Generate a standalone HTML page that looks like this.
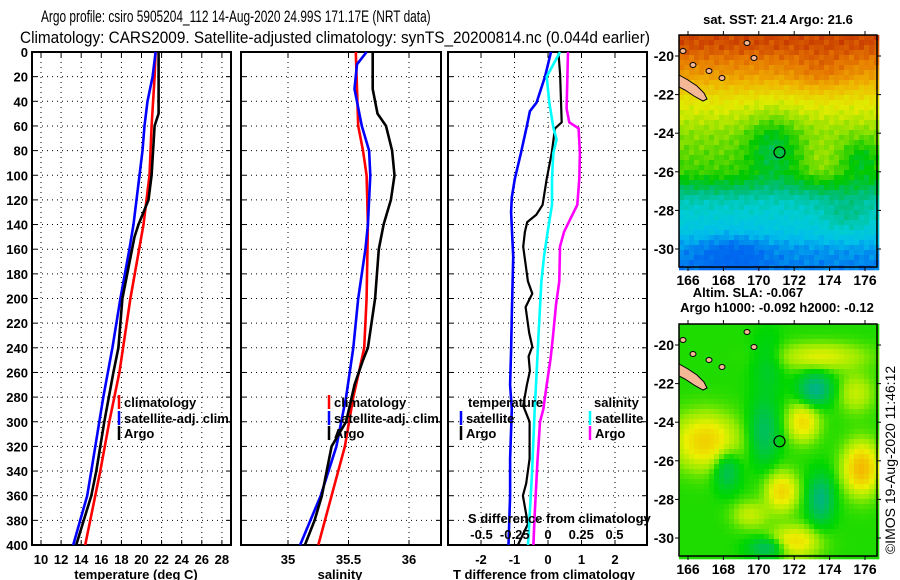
<!DOCTYPE html>
<html><head><meta charset="utf-8">
<style>
html,body{margin:0;padding:0;background:#fff;}
svg{display:block;font-family:"Liberation Sans",sans-serif;}
.tk{font-size:13px;font-weight:bold;}
.mk{font-size:14px;font-weight:bold;}
.lg{font-size:13px;font-weight:bold;}
.tt{font-size:17px;font-family:"Liberation Sans",sans-serif;}
</style></head>
<body>
<svg id="fig" width="900" height="580" viewBox="0 0 900 580" xmlns="http://www.w3.org/2000/svg">
<text id="t1" class="tt" x="0" y="0">Argo profile: csiro 5905204_112 14-Aug-2020 24.99S 171.17E (NRT data)</text>
<text id="t2" class="tt" x="0" y="0">Climatology: CARS2009. Satellite-adjusted climatology: synTS_20200814.nc (0.044d earlier)</text>
<g id="plots"></g>
<g id="maps"></g>
</svg>
<script>
// ---------------- data ----------------
const depthTicks=[0,20,40,60,80,100,120,140,160,180,200,220,240,260,280,300,320,340,360,380,400];
const tempTicks=[10,12,14,16,18,20,22,24,26,28];
const salTicks=[35,35.5,36];
const tdiffTicks=[-2,-1,0,1,2];
const sdiffTicks=[-0.5,-0.25,0,0.25,0.5];
const sdiffLabels=["-0.5","-0.25","0","0.25","0.5"];

const tClimDepth=[0,20,60,100,120,140,200,260,300,340,400];
const tClimVal=[21.4,21.3,21.0,20.8,20.5,20.2,18.9,17.8,16.8,15.9,14.4];
const tSatDepth=[0,20,40,60,80,100,140,160,200,240,280,300,340,360,400];
const tSatVal=[21.4,21.1,20.6,20.3,20.1,19.8,19.2,18.8,17.9,17.1,16.2,15.8,15.0,14.6,13.2];
const tArgoDepth=[0,50,60,100,120,130,140,150,200,240,260,300,340,360,400];
const tArgoVal=[21.7,21.7,21.3,21.0,20.7,20.2,19.7,19.3,18.1,17.7,17.2,16.3,15.5,15.0,13.5];

const sClimDepth=[0,60,80,100,140,200,240,258,280,320,360,400];
const sClimVal=[35.56,35.58,35.62,35.65,35.66,35.65,35.63,35.59,35.54,35.47,35.36,35.25];
const sSatDepth=[0,10,30,60,80,100,140,160,200,240,280,320,360,400];
const sSatVal=[35.65,35.57,35.55,35.61,35.67,35.68,35.66,35.64,35.58,35.54,35.48,35.40,35.27,35.10];
const sArgoDepth=[0,30,50,60,80,100,120,140,160,200,220,240,250,270,300,320,340,360,380,400];
const sArgoVal=[35.70,35.70,35.74,35.81,35.86,35.88,35.85,35.79,35.75,35.72,35.69,35.66,35.62,35.55,35.48,35.36,35.32,35.28,35.22,35.14];

const dtSatDepth=[0,20,41,48,61,82,103,118,130,166,214,242,270,290,330,360,400];
const dtSatVal=[0.09,-0.09,-0.34,-0.54,-0.64,-0.81,-0.99,-1.08,-1.10,-1.04,-1.08,-1.10,-1.13,-1.08,-1.13,-1.13,-1.18];
const dtArgoDepth=[0,18,57,62,82,103,124,132,138,146,158,186,196,207,228,239,247,259,270,287,300,330,350,360,383,400];
const dtArgoVal=[0.31,0.36,0.41,0.21,0.11,-0.04,-0.16,-0.35,-0.62,-0.69,-0.74,-0.60,-0.47,-0.67,-0.56,-0.47,-0.58,-0.54,-0.63,-0.74,-0.55,-0.55,-0.65,-0.75,-0.6,-0.9];
const dsSatDepth=[0,20,41,61,71,82,103,124,144,166,186,207,227,270,290,342,400];
const dsSatVal=[0.09,-0.01,0.01,0.04,0.065,0.04,0.03,0.03,0.0,-0.03,-0.05,-0.06,-0.07,-0.09,-0.10,-0.12,-0.15];
const dsArgoDepth=[0,46,57,62,82,103,124,135,146,158,186,205,228,248,270,290,300,333,375,400];
const dsArgoVal=[0.15,0.14,0.16,0.23,0.24,0.235,0.22,0.17,0.12,0.09,0.085,0.06,0.04,0.02,-0.01,-0.035,-0.06,-0.08,-0.10,-0.11];

const lonTicks=[166,168,170,172,174,176];
const latTicks=[-20,-22,-24,-26,-28,-30];
const argoLon=171.17, argoLat=-24.99;

// ---------------- titles (scaled to fit) ----------------
function fitTitle(id,x,y,w){const e=document.getElementById(id);const L=e.getComputedTextLength()||w;
  e.setAttribute('transform','translate('+x+','+y+') scale('+(w/L).toFixed(4)+',1)');}
fitTitle('t1',41,22,390);
fitTitle('t2',20,43,630);

// ---------------- helpers ----------------
const NS="http://www.w3.org/2000/svg";
function mk(tag,attrs,parent,text){const e=document.createElementNS(NS,tag);for(const k in attrs)e.setAttribute(k,attrs[k]);if(text!==undefined)e.textContent=text;parent.appendChild(e);return e;}
const plots=document.getElementById('plots');
const Y0=52, YS=1.2325;
function yD(d){return Y0+d*YS;}
const YB=yD(400);

function panel(name,x0,x1,xf,vticks,vlabels,labelY,leftLabels){
  const g=mk('g',{},plots);
  
  
  depthTicks.forEach(d=>{ if(d>0&&d<400){const l=mk('line',{x1:x0,x2:x1,y1:yD(d),y2:yD(d),stroke:'#000','stroke-width':1,'stroke-dasharray':'1,4'},g);
    }
    mk('line',{x1:x0,x2:x0+5,y1:yD(d),y2:yD(d),stroke:'#000'},g);
    mk('line',{x1:x1-5,x2:x1,y1:yD(d),y2:yD(d),stroke:'#000'},g);
    if(leftLabels){const t=mk('text',{x:x0-4,y:yD(d)+5,'text-anchor':'end',class:'tk'},g,String(d));
      }
  });
  vticks.forEach((v,i)=>{const x=xf(v);
    const l=mk('line',{x1:x,x2:x,y1:Y0,y2:YB,stroke:'#000','stroke-width':1,'stroke-dasharray':'1,4'},g);
    
    mk('line',{x1:x,x2:x,y1:Y0,y2:Y0+5,stroke:'#000'},g);mk('line',{x1:x,x2:x,y1:YB-5,y2:YB,stroke:'#000'},g);
    if(vlabels){const t=mk('text',{x:x,y:labelY,'text-anchor':'middle',class:'tk'},g,vlabels[i]);
      }
  });
  const r=mk('rect',{x:x0,y:Y0,width:x1-x0,height:YB-Y0,fill:'none',stroke:'#000','stroke-width':2},g);
  
  return g;
}
function series(g,name,depths,vals,xf,color,w){
  const pts=depths.map((d,i)=>xf(vals[i]).toFixed(1)+','+yD(d).toFixed(1)).join(' ');
  const p=mk('polyline',{points:pts,fill:'none',stroke:color,'stroke-width':w||2.6,'stroke-linejoin':'miter'},g);
  
  
}
function legend(g,name,x,y,color,label){
  const m=mk('line',{x1:x,x2:x,y1:y-12,y2:y+2,stroke:color,'stroke-width':2.5},g);
  
  if(label){const t=mk('text',{x:x+5,y:y,class:'lg'},g,label);
    }
}

// Panel 1: temperature
const xT=v=>41+(v-10)*10.05;
const g1=panel('temperature-panel',32,231,xT,tempTicks,tempTicks.map(String),564,true);
series(g1,'temp-climatology-line',tClimDepth,tClimVal,xT,'#f00');
series(g1,'temp-satellite-line',tSatDepth,tSatVal,xT,'#00f');
series(g1,'temp-argo-line',tArgoDepth,tArgoVal,xT,'#000');
legend(g1,'legend-climatology',119,407,'#f00','climatology');
legend(g1,'legend-satellite-adj',119,423,'#00f','satellite-adj. clim.');
legend(g1,'legend-argo',119,438,'#000','Argo');
let t=mk('text',{x:136,y:579,'text-anchor':'middle',class:'tk'},g1,'temperature (deg C)');


// Panel 2: salinity
const xS=v=>288+(v-35)*121;
const g2=panel('salinity-panel',241,441,xS,salTicks,['35','35.5','36'],564,false);
series(g2,'sal-climatology-line',sClimDepth,sClimVal,xS,'#f00');
series(g2,'sal-satellite-line',sSatDepth,sSatVal,xS,'#00f');
series(g2,'sal-argo-line',sArgoDepth,sArgoVal,xS,'#000');
legend(g2,'legend-climatology-s',329,407,'#f00','climatology');
legend(g2,'legend-satellite-adj-s',329,423,'#00f','satellite-adj. clim.');
legend(g2,'legend-argo-s',329,438,'#000','Argo');
t=mk('text',{x:340,y:579,'text-anchor':'middle',class:'tk'},g2,'salinity');


// Panel 3: differences
const xDT=v=>548+v*33.5;
const xDS=v=>548+v*133;
const g3=panel('difference-panel',448,647,xDT,tdiffTicks,tdiffTicks.map(String),564,false);
series(g3,'tdiff-satellite-line',dtSatDepth,dtSatVal,xDT,'#00f');
series(g3,'tdiff-argo-line',dtArgoDepth,dtArgoVal,xDT,'#000',2.2);
series(g3,'sdiff-satellite-line',dsSatDepth,dsSatVal,xDS,'#0ff');
series(g3,'sdiff-argo-line',dsArgoDepth,dsArgoVal,xDS,'#f0f');
t=mk('text',{x:468,y:407,class:'lg'},g3,'temperature');
legend(g3,'legend-t-satellite',461,423,'#00f','satellite');
legend(g3,'legend-t-argo',461,438,'#000','Argo');
t=mk('text',{x:594,y:407,class:'lg'},g3,'salinity');
legend(g3,'legend-s-satellite',590,423,'#0ff','satellite');
legend(g3,'legend-s-argo',590,438,'#f0f','Argo');
t=mk('text',{x:468,y:523,class:'lg'},g3,'S difference from climatology');
sdiffTicks.forEach((v,i)=>{const tt=mk('text',{x:xDS(v),y:539,'text-anchor':'middle',class:'tk'},g3,sdiffLabels[i]);
  });
t=mk('text',{x:544,y:579,'text-anchor':'middle',class:'tk'},g3,'T difference from climatology');


// ---------------- maps ----------------
const maps=document.getElementById('maps');
function lerpC(stops,v){v=Math.max(0,Math.min(1,v));for(let i=1;i<stops.length;i++){if(v<=stops[i][0]){const a=stops[i-1],b=stops[i];const f=(v-a[0])/(b[0]-a[0]);
  return 'rgb('+[1,2,3].map(k=>Math.round(a[k]+(b[k]-a[k])*f)).join(',')+')';}}const s=stops[stops.length-1];return 'rgb('+s[1]+','+s[2]+','+s[3]+')';}
const sstStops=[[0,0,80,235],[0.15,0,110,240],[0.25,0,190,235],[0.33,0,205,210],[0.42,0,190,120],[0.5,0,200,0],[0.6,140,225,0],[0.68,225,235,0],[0.8,240,180,0],[0.9,230,120,0],[1,190,40,0]];
const slaStops=[[0,0,175,150],[0.3,0,200,60],[0.45,0,215,0],[0.6,150,235,0],[0.75,235,240,0],[1,245,180,0]];
function g2d(x,y,cx,cy,sx,sy){return Math.exp(-(((x-cx)/sx)**2+((y-cy)/sy)**2));}
const sstBase=[[-18,0.98],[-19.5,0.95],[-21,0.84],[-22.3,0.7],[-23,0.66],[-24,0.6],[-26,0.54],[-26.8,0.45],[-27.5,0.36],[-29,0.29],[-30,0.2],[-32,0.14]];
function baseAt(lat){for(let i=1;i<sstBase.length;i++){
  if(lat<=sstBase[i-1][0]&&lat>=sstBase[i][0]){const a=sstBase[i-1],b=sstBase[i];return a[1]+(b[1]-a[1])*(lat-a[0])/(b[0]-a[0]);}}
  return lat>-18?0.98:0.14;}
function sst(lon,lat){
  let v=baseAt(lat);
  v-=0.12*g2d(lon,lat,170.8,-24.6,1.5,1.8);
  v-=0.08*g2d(lon,lat,175.8,-25.3,1.0,1.0);
  v+=0.05*g2d(lon,lat,173.5,-25.5,1.0,1.2);
  v-=0.07*g2d(lon,lat,168.5,-30.2,2.0,1.2);
  v+=0.07*g2d(lon,lat,175,-28.3,1.5,1.2);
  v+=0.05*g2d(lon,lat,173.5,-21,1.5,1.0);
  v+=0.025*Math.sin(lon*7.3+lat*5.1)*Math.cos(lon*3.1-lat*9.7);
  return v;}
function sla(lon,lat){
  let v=0.48;
  v+=0.4*g2d(lon,lat,167,-25,1.8,1.4);
  v+=0.35*g2d(lon,lat,172.5,-24,0.9,1.0);
  v+=0.5*g2d(lon,lat,175.8,-26.4,1.0,1.3);
  v+=0.38*g2d(lon,lat,171.3,-27.6,0.9,1.0);
  v+=0.35*g2d(lon,lat,172,-30.2,1.4,0.8);
  v+=0.25*g2d(lon,lat,173.5,-20.6,2.5,0.7);
  v+=0.2*g2d(lon,lat,169.5,-28.8,1,0.7);
  v+=0.2*g2d(lon,lat,175.5,-22.5,1,1);
  v-=0.45*g2d(lon,lat,173.2,-22.3,0.9,0.8);
  v-=0.3*g2d(lon,lat,170.3,-24.5,0.8,1.6);
  v-=0.3*g2d(lon,lat,168.2,-26.5,0.7,1);
  v-=0.4*g2d(lon,lat,173.5,-28,0.7,1.2);
  v-=0.35*g2d(lon,lat,170.5,-30.5,1,0.5);
  v-=0.15*g2d(lon,lat,170.5,-21,0.8,1.5);
  return v;}
function drawMap(name,top,fn,stops){
  const L=679,R=877,T=top,B=top+232;
  const lx=v=>688+(v-166)*17.7;
  const ly=v=>(top+21)+(-20-v)*19.3;
  const g=mk('g',{},maps);
  
  
  const cs=5;
  for(let y=T;y<B;y+=cs){for(let x=L;x<R;x+=cs){
    const lon=166+(x+cs/2-688)/17.7, lat=-20-(y+cs/2-(top+21))/19.3;
    mk('rect',{x:x,y:y,width:cs+0.3,height:cs+0.3,fill:lerpC(stops,fn(lon,lat))},g);}}
  const shift=top-35;
  const land=mk('polygon',{points:[[679,75],[688,80],[697,86],[704,93],[707,99],[703,101],[694,96],[685,90],[679,87]].map(p=>p[0]+','+(p[1]+shift)).join(' '),fill:'#f5b896',stroke:'#000','stroke-width':1},g);
  
  [[693,65],[709,71],[722,78],[747,43],[754,58],[683,51]].forEach(p=>{mk('ellipse',{cx:p[0],cy:p[1]+shift,rx:3,ry:2.5,fill:'#f5b896',stroke:'#000','stroke-width':1},g);});
  const c=mk('circle',{cx:lx(argoLon),cy:ly(argoLat),r:5.5,fill:'none',stroke:'#000','stroke-width':1.2},g);
  
  mk('rect',{x:L,y:T,width:R-L,height:B-T,fill:'none',stroke:'#000','stroke-width':1.5},g);
  lonTicks.forEach(v=>{mk('line',{x1:lx(v),x2:lx(v),y1:T,y2:T-4,stroke:'#000'},g);mk('line',{x1:lx(v),x2:lx(v),y1:B,y2:B+4,stroke:'#000'},g);
    const tt=mk('text',{x:lx(v),y:B+18,'text-anchor':'middle',class:'mk'},g,String(v));
    });
  latTicks.forEach(v=>{mk('line',{x1:L,x2:L-4,y1:ly(v),y2:ly(v),stroke:'#000'},g);mk('line',{x1:R,x2:R+4,y1:ly(v),y2:ly(v),stroke:'#000'},g);
    const tt=mk('text',{x:L-5,y:ly(v)+5,'text-anchor':'end',class:'mk'},g,String(v));
    });
  return g;
}
drawMap('sst-map',35,sst,sstStops);
drawMap('sla-map',324,sla,slaStops);
t=mk('text',{x:778,y:24,'text-anchor':'middle',class:'tk'},maps,'sat. SST: 21.4 Argo: 21.6');
t=mk('text',{x:748,y:297,'text-anchor':'middle',class:'tk'},maps,'Altim. SLA: -0.067');
t=mk('text',{x:777,y:312,'text-anchor':'middle',class:'tk'},maps,'Argo h1000: -0.092 h2000: -0.12');
t=mk('text',{x:0,y:0,'text-anchor':'middle',transform:'translate(895,460) rotate(-90)',style:'font-size:14px'},maps,'©IMOS 19-Aug-2020 11:46:12');
</script>
</body></html>
